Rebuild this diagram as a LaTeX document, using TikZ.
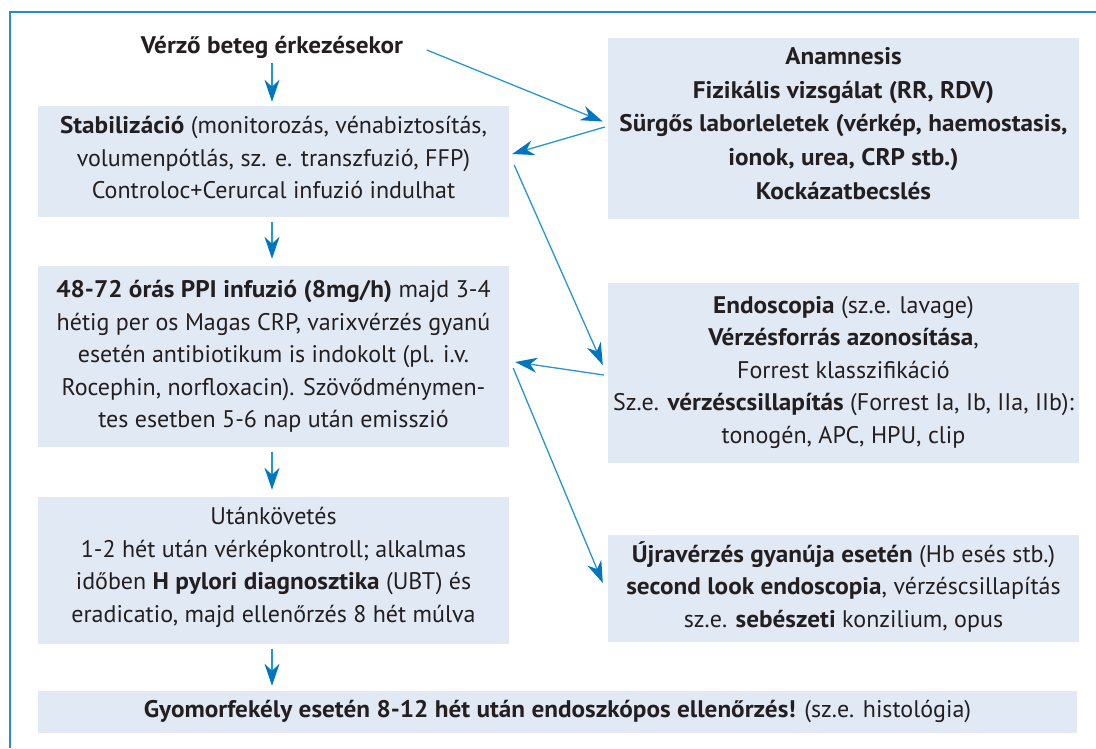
\documentclass[tikz,border=0pt]{standalone}
\usepackage{fontspec}
\setmainfont{PT Sans}[BoldFeatures={FakeStretch=1.05}]
\usetikzlibrary{arrows.meta,calc}
\definecolor{boxfill}{RGB}{225,233,244}
\definecolor{txt}{RGB}{35,31,32}
\definecolor{arrline}{RGB}{38,150,206}
\definecolor{arrhead}{RGB}{0,118,190}
\definecolor{framec}{RGB}{40,140,205}
\begin{document}
\begin{tikzpicture}[x=1pt,y=-1pt,
  box/.style={fill=boxfill, draw=none, inner sep=0pt, minimum width=471pt},
  txtnode/.style={text=txt, align=center, inner sep=0pt, font=\fontsize{24}{32.5}\selectfont},
  arr/.style={draw=arrline, line width=1.3pt,
    -{Stealth[length=22pt,width=15pt,inset=7pt,color=arrhead]}}]
\useasboundingbox (0,0) rectangle (1096,748);
\draw[framec, line width=1.5pt] (1096,12) -- (10,12) -- (10,748);

\node[txtnode] (start) at (272,47) {\textbf{Vérző beteg érkezésekor}};

% boxes
\node[box, minimum height=111pt] (L1) at (273.5,161.5) {};
\node[box, minimum height=181pt] (L2) at (273.5,356.5) {};
\node[box, minimum height=147pt] (L3) at (273.5,570.5) {};
\node[box, minimum height=181pt] (R1) at (843.5,128.5) {};
\node[box, minimum height=180pt] (R2) at (843.5,373) {};
\node[box, minimum height=107pt] (R3) at (843.5,588.5) {};
\node[box, minimum width=1039pt, minimum height=42pt] (B) at (557.5,712) {};

% texts
\node[txtnode] (L1t) at ($(L1.center)+(0,-4)$)
 {\textbf{Stabilizáció} (monitorozás, vénabiztosítás,\\ volumenpótlás, sz. e. transzfuzió, FFP)\\ Controloc+Cerurcal infuzió indulhat};
\node[txtnode] (L2t) at (L2.center)
 {\textbf{48-72 órás PPI infuzió (8mg/h)} majd 3-4\\ hétig per os Magas CRP, varixvérzés gyanú\\ esetén antibiotikum is indokolt (pl. i.v.\\ Rocephin, norfloxacin). Szövődménymen-\\ tes esetben 5-6 nap után emisszió};
\node[txtnode] (L3t) at ($(L3.center)+(0,-3)$)
 {Utánkövetés\\ 1-2 hét után vérképkontroll; alkalmas\\ időben \textbf{H pylori diagnosztika} (UBT) és\\ eradicatio, majd ellenőrzés 8 hét múlva};
\node[txtnode, font=\fontsize{24}{33.75}\selectfont\bfseries] (R1t) at ($(R1.center)+(0,-5)$)
 {Anamnesis\\ Fizikális vizsgálat (RR, RDV)\\ Sürgős laborleletek (vérkép, haemostasis,\\ ionok, urea, CRP stb.)\\ Kockázatbecslés};
\node[txtnode] (R2t) at ($(R2.center)+(0,-1)$)
 {\textbf{Endoscopia} (sz.e. lavage)\\ \textbf{Vérzésforrás azonosítása},\\ Forrest klasszifikáció\\ Sz.e. \textbf{vérzéscsillapítás} (Forrest Ia, Ib, IIa, IIb):\\ tonogén, APC, HPU, clip};
\node[txtnode] (R3t) at ($(R3.center)+(0,-2)$)
 {\textbf{Újravérzés gyanúja esetén} (Hb esés stb.)\\ \textbf{second look endoscopia}, vérzéscsillapítás\\ sz.e. \textbf{sebészeti} konzilium, opus};
\node[txtnode] (Bt) at ($(B.center)+(0,-1)$)
 {\textbf{Gyomorfekély esetén 8-12 hét után endoszkópos ellenőrzés!} (sz.e. histológia)};

% vertical arrows
\draw[arr] ($(L1.north)+(-1.5,-43)$) -- ($(L1.north)+(-1.5,-4)$);
\draw[arr] ($(L1.south)+(-1.5,5)$) -- ($(L2.north)+(-1.5,-7)$);
\draw[arr] ($(L2.south)+(-1.5,5)$) -- ($(L3.north)+(-1.5,-7)$);
\draw[arr] ($(L3.south)+(-1.5,5)$) -- ($(B.north)+(-285.5,-5)$);
% diagonal arrows
\draw[arr] ($(R1.west)+(-181,-78.5)$) -- ($(R1.west)+(-5,-7)$);
\draw[arr] ($(R1.west)+(-3,-1.5)$) -- ($(L1.east)+(3,-7.5)$);
\draw[arr] ($(L1.east)+(5,3.5)$) -- ($(R2.west)+(-5,-8)$);
\draw[arr] ($(R2.west)+(-4,2)$) -- ($(L2.east)+(6,5.5)$);
\draw[arr] ($(L2.east)+(4,11.5)$) -- ($(R3.west)+(-5,-5.5)$);
\end{tikzpicture}
\end{document}
